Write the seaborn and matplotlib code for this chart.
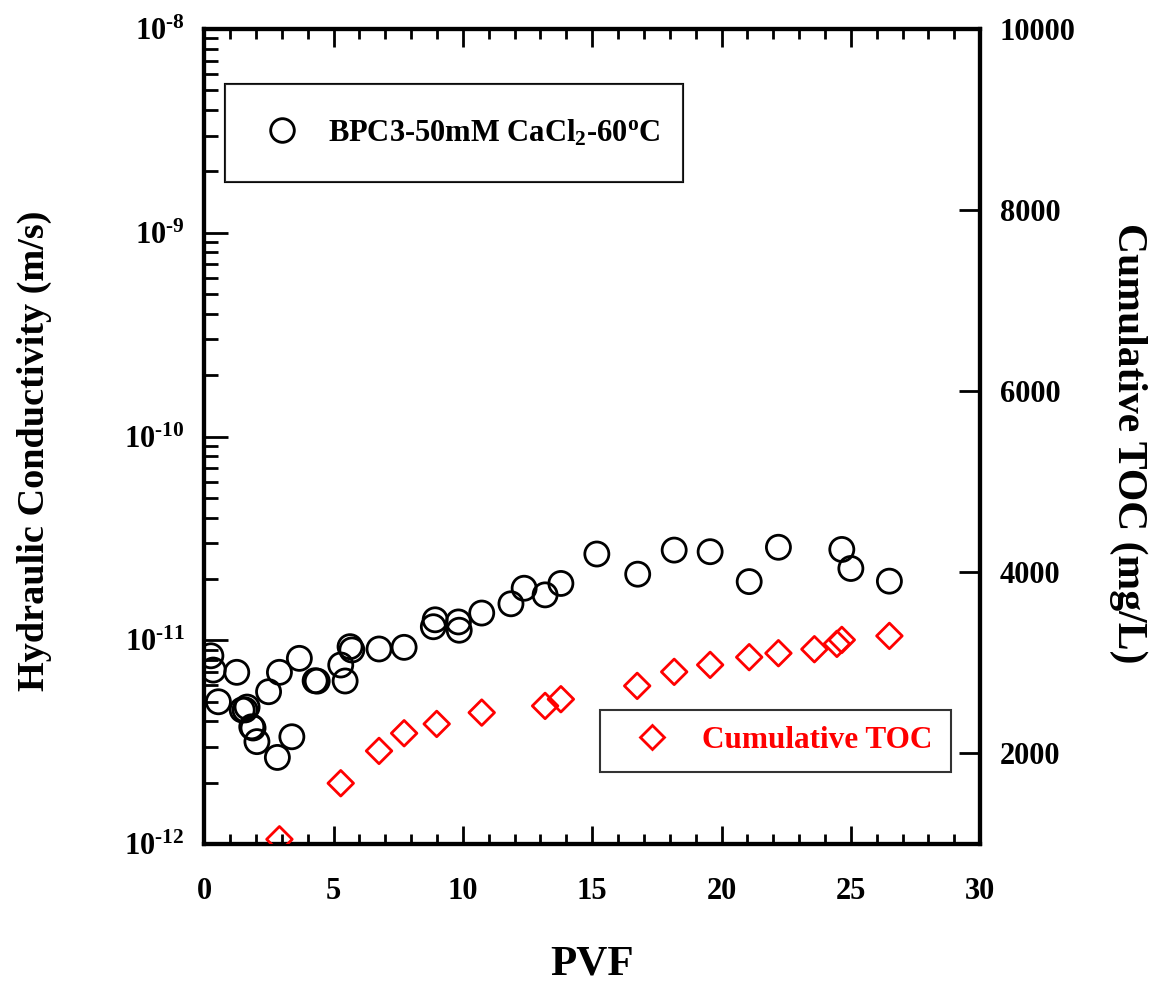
import matplotlib
matplotlib.use("Agg")
import matplotlib.pyplot as plt
from matplotlib.lines import Line2D
from matplotlib.ticker import FuncFormatter, LogLocator, MultipleLocator, NullFormatter
import numpy as np
import pandas as pd
import seaborn as sns

# Hydraulic conductivity (m/s) vs PVF
k_pvf = [0.26, 0.35, 0.55, 1.26, 1.47, 1.58, 1.66, 1.84, 1.89, 2.04, 2.49, 2.83, 2.91,
         3.39, 3.68, 4.29, 4.37, 5.28, 5.45, 5.64, 5.71, 6.76, 7.73, 8.86, 8.93, 9.83,
         9.86, 10.73, 11.86, 12.37, 13.18, 13.79, 15.18, 16.76, 18.17, 19.56, 21.07,
         22.2, 24.65, 25.0, 26.49]
k_val = [8.39e-12, 7.14e-12, 4.99e-12, 6.96e-12, 4.55e-12, 4.55e-12, 4.70e-12, 3.76e-12,
         3.71e-12, 3.18e-12, 5.59e-12, 2.66e-12, 6.96e-12, 3.36e-12, 8.15e-12, 6.33e-12,
         6.30e-12, 7.56e-12, 6.31e-12, 9.30e-12, 8.96e-12, 9.06e-12, 9.23e-12, 1.165e-11,
         1.26e-11, 1.23e-11, 1.12e-11, 1.36e-11, 1.51e-11, 1.80e-11, 1.67e-11, 1.90e-11,
         2.65e-11, 2.11e-11, 2.77e-11, 2.72e-11, 1.94e-11, 2.86e-11, 2.79e-11, 2.25e-11,
         1.95e-11]

# Cumulative TOC (mg/L) vs PVF
toc_pvf = [2.91, 5.28, 6.76, 7.73, 8.99, 10.73, 13.18, 13.79, 16.74, 18.17, 19.56,
           21.07, 22.2, 23.59, 24.46, 24.65, 26.49]
toc_val = [1052, 1671, 2028, 2223, 2326, 2451, 2525, 2599, 2746, 2901, 2978,
           3063, 3107, 3151, 3210, 3254, 3298]

k_df = pd.DataFrame({"PVF": k_pvf, "K": k_val})
toc_df = pd.DataFrame({"PVF": toc_pvf, "TOC": toc_val})

sns.set_style("ticks")
plt.rcParams["font.family"] = ["Liberation Serif", "DejaVu Serif"]
plt.rcParams["font.weight"] = "bold"
plt.rcParams["mathtext.fontset"] = "custom"
plt.rcParams["mathtext.rm"] = "Liberation Serif:bold"
plt.rcParams["mathtext.it"] = "Liberation Serif:bold"
plt.rcParams["mathtext.bf"] = "Liberation Serif:bold"
plt.rcParams["mathtext.default"] = "rm"
for key in ("text.color", "axes.labelcolor", "xtick.color", "ytick.color", "axes.edgecolor"):
    plt.rcParams[key] = "black"

fig = plt.figure(figsize=(11.6, 9.83), dpi=100)
ax = fig.add_axes([0.176, 0.1414, 0.669, 0.8291])
ax2 = ax.twinx()

sns.scatterplot(data=k_df, x="PVF", y="K", ax=ax, marker="o", s=300,
                facecolor="none", edgecolor="black", linewidth=2, zorder=3)
sns.scatterplot(data=toc_df, x="PVF", y="TOC", ax=ax2, marker="D", s=170,
                facecolor="none", edgecolor="red", linewidth=2, zorder=3)

ax.set_yscale("log")
ax.set_xlim(0, 30)
ax.set_ylim(1e-12, 1e-8)
ax2.set_ylim(1000, 10000)

ax.xaxis.set_major_locator(MultipleLocator(5))
ax.xaxis.set_minor_locator(MultipleLocator(1))
ax.yaxis.set_major_locator(LogLocator(base=10, numticks=10))
ax.yaxis.set_minor_locator(LogLocator(base=10, subs=range(2, 10), numticks=20))
ax.yaxis.set_minor_formatter(NullFormatter())
ax.yaxis.set_major_formatter(
    FuncFormatter(lambda v, p: "10$^{\\text{%d}}$" % int(round(np.log10(v)))))
ax2.yaxis.set_major_locator(MultipleLocator(2000))
ax2.set_xlabel("")

for a in (ax, ax2):
    for sp in a.spines.values():
        sp.set_linewidth(3)
        sp.set_color("black")

ax.tick_params(axis="x", which="both", direction="in", top=True, bottom=True,
               width=2, labelsize=22, pad=24)
ax.tick_params(axis="x", which="major", length=13)
ax.tick_params(axis="x", which="minor", length=7)
ax.tick_params(axis="y", which="both", direction="in", left=True, right=False,
               width=2, labelsize=22, pad=14)
ax.tick_params(axis="y", which="major", length=17)
ax.tick_params(axis="y", which="minor", length=10)
ax2.tick_params(axis="y", which="major", direction="in", length=15, width=2,
                labelsize=22, pad=14)
ax2.tick_params(axis="y", which="minor", right=False)

ax.set_xlabel("PVF", fontsize=31, fontweight="bold", labelpad=28)
ax.set_ylabel("Hydraulic Conductivity (m/s)", fontsize=27.5, fontweight="bold", labelpad=52)
ax.yaxis.label.set_y(0.483)
ax2.set_ylabel("Cumulative TOC (mg/L)", fontsize=30, fontweight="bold",
               rotation=270, labelpad=52)
ax2.yaxis.label.set_y(0.492)

h1 = Line2D([], [], marker="o", linestyle="none", markersize=17,
            markerfacecolor="none", markeredgecolor="black", markeredgewidth=2)
leg1 = ax.legend([h1], ["BPC3-50mM CaCl$_2$-60$^o$C"], loc="upper left",
                 bbox_to_anchor=(0.027, 0.811, 0.59, 0.1215), mode="expand",
                 fontsize=22, frameon=True, fancybox=False, borderpad=1.1,
                 handlelength=1.5, handletextpad=0.78, borderaxespad=0)
leg1.get_frame().set_edgecolor("black")
leg1.get_frame().set_linewidth(1.5)
ax.add_artist(leg1)

h2 = Line2D([], [], marker="D", linestyle="none", markersize=12,
            markerfacecolor="none", markeredgecolor="red", markeredgewidth=2)
leg2 = ax2.legend([h2], ["Cumulative TOC"], loc="upper left",
                  bbox_to_anchor=(0.510, 0.0871, 0.453, 0.0773), mode="expand",
                  fontsize=22.5, frameon=True, fancybox=False, borderpad=0.52,
                  handlelength=2.3, handletextpad=0.45, borderaxespad=0)
leg2.get_frame().set_edgecolor("black")
leg2.get_frame().set_linewidth(1.5)
for t in leg2.get_texts():
    t.set_color("red")

fig.savefig("out.png", dpi=100)
